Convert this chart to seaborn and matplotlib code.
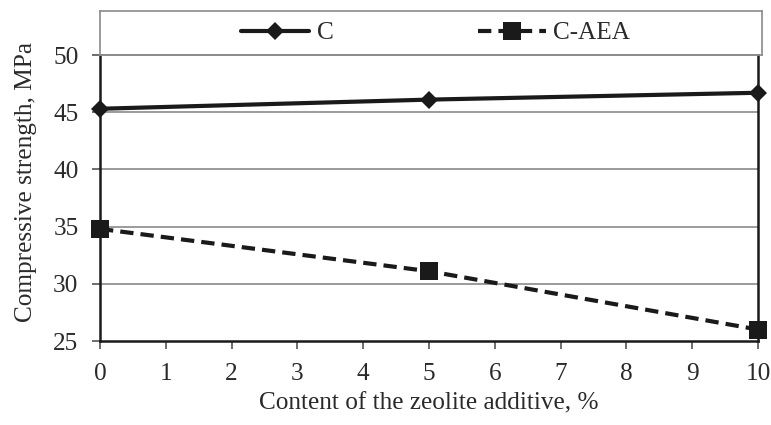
import matplotlib
matplotlib.use("Agg")
import matplotlib.pyplot as plt
import seaborn as sns
import pandas as pd

# Data
zeolite = [0, 5, 10]
c_values = [45.3, 46.1, 46.7]
c_aea_values = [34.8, 31.1, 26.0]
series_names = ["C", "C-AEA"]
x_ticks = list(range(0, 11))
y_ticks = [25, 30, 35, 40, 45, 50]

sns.set_theme(style="white")
plt.rcParams["font.family"] = ["Liberation Serif", "DejaVu Serif"]

text_color = "#2a2a2a"
fs = 18.2

df = pd.DataFrame({
    "x": zeolite * 2,
    "y": c_values + c_aea_values,
    "series": [series_names[0]] * 3 + [series_names[1]] * 3,
})

fig = plt.figure(figsize=(7.71, 4.25), dpi=100)
ax = fig.add_axes([100 / 771, 84 / 425, 658 / 771, (341 - 55) / 425])

sns.lineplot(data=df[df.series == "C"], x="x", y="y", ax=ax, color="#1a1a1a",
             marker="D", markersize=9.5, linewidth=3.0, label="C",
             markeredgewidth=0, clip_on=False)
sns.lineplot(data=df[df.series == "C-AEA"], x="x", y="y", ax=ax, color="#1a1a1a",
             marker="s", markersize=13, linewidth=3.0, label="C-AEA",
             markeredgewidth=0, clip_on=False, dashes=(3.2, 1.7))
for ln in ax.lines:
    ln.set_zorder(5)

ax.set_xlim(0, 10)
ax.set_ylim(25, 50)
ax.set_xticks(x_ticks)
ax.set_yticks(y_ticks)
ax.set_xticklabels([str(t) for t in x_ticks], fontsize=fs, color=text_color)
ax.set_yticklabels([str(t) for t in y_ticks], fontsize=fs, color=text_color)
for yv in [30, 35, 40, 45]:
    ax.axhline(yv, color="#8a8a8a", linewidth=1.2, zorder=1)

for side in ["left", "bottom", "right"]:
    ax.spines[side].set_color("#1a1a1a")
    ax.spines[side].set_linewidth(1.8)
ax.spines["top"].set_color("#8a8a8a")
ax.spines["top"].set_linewidth(1.2)
ax.tick_params(axis="both", direction="out", length=6, width=1.2, colors="#555555",
               labelcolor=text_color, bottom=True, left=True)
ax.tick_params(axis="x", pad=9.5)
ax.tick_params(axis="y", pad=9.5)

ax.set_xlabel("Content of the zeolite additive, %", fontsize=fs, color=text_color, labelpad=6)
ax.set_ylabel("Compressive strength, MPa", fontsize=fs, color=text_color)
ax.yaxis.set_label_coords(-0.096, 0.556)

handles, labels = ax.get_legend_handles_labels()
ax.get_legend().remove()

lax = fig.add_axes([100 / 771, (425 - 55) / 425, 662 / 771, 44 / 425])
lax.set_xticks([])
lax.set_yticks([])
lax.set_facecolor("none")
for s in lax.spines.values():
    s.set_color("#8a8a8a")
    s.set_linewidth(1.2)
leg = lax.legend(handles, labels, loc="center", ncol=2, frameon=False, fontsize=fs,
                 handlelength=2.7, columnspacing=5.7, handletextpad=0.3,
                 bbox_to_anchor=(0.507, 0.5))
for t in leg.get_texts():
    t.set_color(text_color)

fig.savefig("out.png", dpi=100)
